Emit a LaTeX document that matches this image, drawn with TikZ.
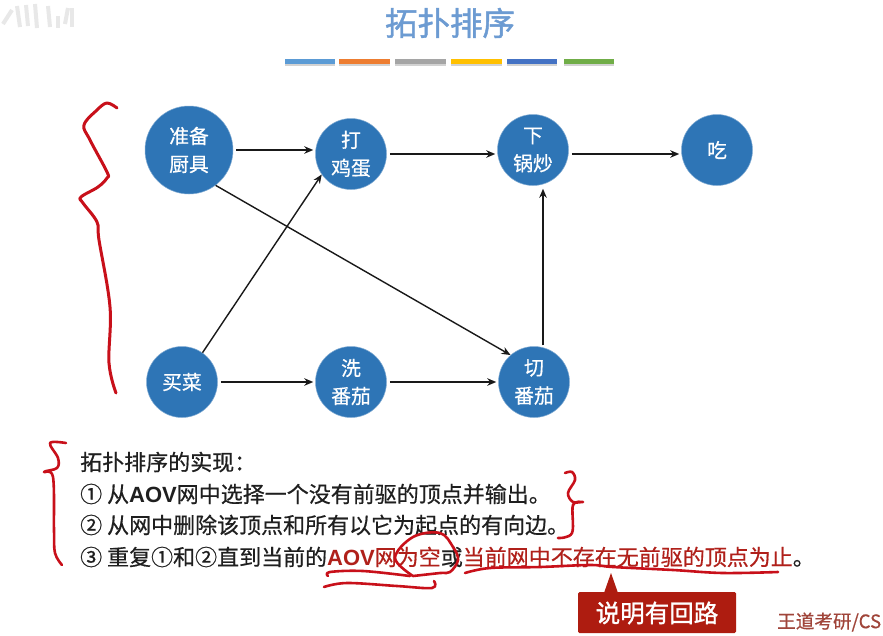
\documentclass[tikz,border=0pt]{standalone}
\usepackage{fontspec}
\setmainfont{Noto Sans CJK SC}[UprightFeatures={RawFeature={embolden=0.6}},BoldFeatures={RawFeature={embolden=0}}]
\newfontfamily\titlefont{Noto Sans CJK SC}[RawFeature={embolden=1.4}]
\newfontfamily\calloutfont{Noto Sans CJK SC}[RawFeature={embolden=1.2}]
\newfontfamily\latinbold[BoldFont=Liberation Sans Bold]{Liberation Sans}
\usetikzlibrary{arrows.meta,shadows}
\definecolor{nodeblue}{HTML}{2E75B6}
\definecolor{titleblue}{HTML}{6C9BD2}
\definecolor{inkred}{HTML}{C8101A}
\definecolor{hilite}{HTML}{B0201A}
\definecolor{calloutred}{HTML}{AE1C10}
\definecolor{creditred}{HTML}{A0453A}
\definecolor{wmark}{HTML}{E8E8E8}
\tikzset{
  vertex/.style={circle,fill=nodeblue,draw=nodeblue!60!white,line width=0.5pt,text=white,align=center,inner sep=0pt,font=\fontsize{19.8}{28}\selectfont},
  edge/.style={-{Stealth[length=9pt,width=7.5pt]},line width=1.4pt,black!90,shorten >=2pt,shorten <=3pt},
  diag/.style={-{Stealth[length=9pt,width=7.5pt]},line width=1.4pt,black!90},
  ink/.style={inkred,line width=3pt,line cap=round,line join=round,smooth,tension=0.6},
  bar/.style={minimum height=5pt,inner sep=0pt,draw=none},
  body/.style={anchor=west,inner sep=0pt,text=black!88,font=\fontsize{22}{26}\selectfont},
}
\newcommand{\lat}[1]{{\latinbold\bfseries #1}}
\begin{document}
\begin{tikzpicture}[x=1pt,y=-1pt]
\useasboundingbox[fill=white] (0,0) rectangle (883,635);
% faint watermark
\foreach \xa/\ya/\xb/\yb in {3/24/12/10,17/6/20/27,26/5/28/26,35/4/37/28,48/6/50/27,58/16/58/28,65/24/68/8,72/8/72/27}
  \draw[wmark,line width=4pt] (\xa,\ya) -- (\xb,\yb);
\node[text=titleblue,inner sep=0pt,font=\fontsize{32.5}{36}\selectfont\titlefont] (title) at (450,23) {拓扑排序};
% colour bars
\foreach \nm/\xa/\w/\c in {b1/310/50/5B9BD5,b2/364.5/51/ED7D31,b3/420.5/51/A5A5A5,b4/476.5/51/FFC000,b5/532/50/4472C4,b6/589/50/70AD47}{
  \definecolor{tmp}{HTML}{\c}
  \node[bar,fill=tmp,minimum width=\w pt,drop shadow={shadow xshift=0pt,shadow yshift=-2pt,opacity=0.35}] (\nm) at (\xa,61) {};
}
% vertices
\node[vertex,minimum size=88pt] (a) at (189,150) {准备\\厨具};
\node[vertex,minimum size=71pt] (b) at (351,154) {打\\鸡蛋};
\node[vertex,minimum size=71pt] (c) at (533,150) {下\\锅炒};
\node[vertex,minimum size=71pt] (d) at (717,150) {吃};
\node[vertex,minimum size=71pt] (e) at (182,382) {买菜};
\node[vertex,minimum size=71pt] (f) at (351,382) {洗\\番茄};
\node[vertex,minimum size=71pt] (g) at (534,382) {切\\番茄};
% edges
\draw[edge] (a.east) -- (b.west|-a.east);
\draw[edge] (b.east) -- (c.west|-b.east);
\draw[edge] (c.east|-b.east) -- (d.west|-b.east);
\draw[edge] (e) -- (f);
\draw[edge] (f) -- (g);
\draw[diag] (e.55) -- (b.215);
\draw[diag] (a.-53) -- (g.131);
\draw[diag] ([xshift=9pt,yshift=1pt]g.north) -- ([xshift=10pt,yshift=-3pt]c.south);
% text
\node[body] (t0) at (80,462) {拓扑排序的实现：};
\node[body] (t1) at (80,494) {① 从\lat{AOV}网中选择一个没有前驱的顶点并输出。};
\node[body] (t2) at (80,525) {② 从网中删除该顶点和所有以它为起点的有向边。};
\node[body] (t3) at (80,557) {③ 重复①和②直到当前的\textcolor{hilite}{\lat{AOV}网为空}或\textcolor{hilite}{当前网中不存在无前驱的顶点为止}。};
% callout
\fill[calloutred,rounded corners=1.5pt] (578,592) rectangle (736,633);
\coordinate (tip) at (611,573);
\fill[calloutred] (tip) -- (618,593) -- (604,593) -- cycle;
\node[text=white,inner sep=0pt,font=\fontsize{24.5}{28}\selectfont\calloutfont] (cl) at (657,613) {说明有回路};
% credit
\node[anchor=west,inner sep=0pt,text=creditred,font=\fontsize{18.6}{22}\selectfont] (wm) at (777,622) {王道考研/CS};
% red handwriting
\draw[ink] plot coordinates {(117,108)(107,103)(97,110)(84,125)(90,140)(107,172)(107,178)(98,187)(81,197)(83,203)(97,222)(99,240)(110,307)(109,363)(116,393)};
\draw[ink,line width=2.6pt] plot coordinates {(66,443)(50,443)(58,458)(57,468)(44,472)(53,477)(54,530)(55,553)(62,565)};
\draw[ink,line width=2.6pt] plot coordinates {(565,473)(572,472)(575,480)(568,493)(573,502)(583,502)(573,505)(572,533)(558,538)};
\draw[ink,line width=2.6pt] plot coordinates {(328,576)(330,572)(363,571)(410,576)};
\draw[ink,line width=2.6pt] plot coordinates {(324,587)(347,583)(397,586)(432,588)(434,581)};
\draw[ink,line width=2.6pt] plot coordinates {(413,576)(395,558)(413,537)(440,533)(453,547)(458,560)(450,572)(440,573)(413,576)};
\draw[ink,line width=2.6pt] plot coordinates {(465,573)(490,568)(540,567)(590,565)(613,567)(673,570)(723,573)(778,572)};
\end{tikzpicture}
\end{document}
